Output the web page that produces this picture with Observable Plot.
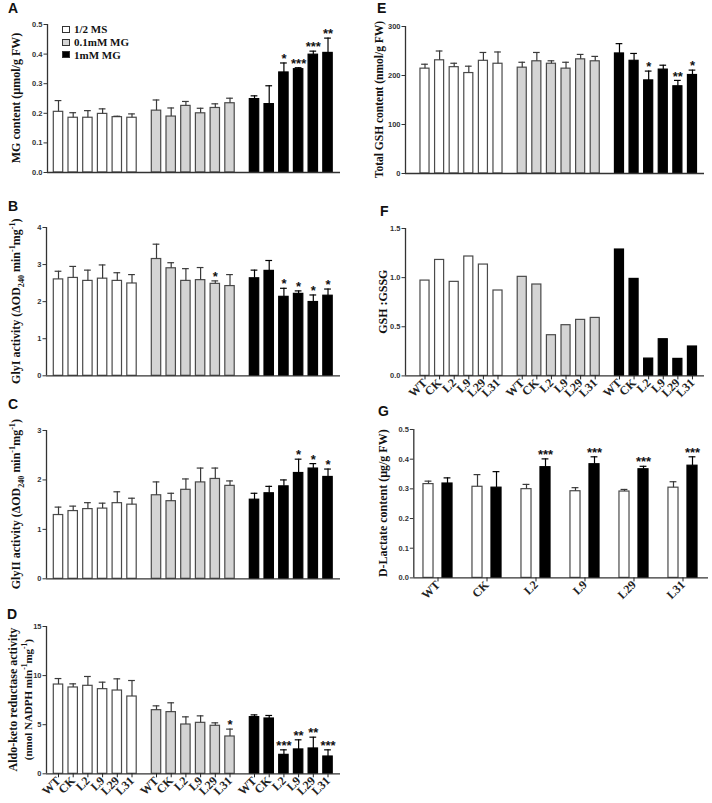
<!DOCTYPE html>
<html><head><meta charset="utf-8">
<script src="https://cdn.jsdelivr.net/npm/d3@7"></script>
<script src="https://cdn.jsdelivr.net/npm/@observablehq/plot@0.6"></script>
<style>
body{margin:0;background:#fff;}
#fig{position:relative;width:712px;height:803px;overflow:hidden;background:#fff;}
.panel{position:absolute;}
.letter{position:absolute;font:bold 14px "Liberation Sans",Arial,sans-serif;line-height:1;color:#111;}
.legend{position:absolute;left:62px;top:23px;font:bold 11px "Liberation Serif","Times New Roman",serif;color:#111;}
.legend .row{height:12.7px;display:flex;align-items:center;white-space:nowrap;}
.legend .box{display:inline-block;width:6px;height:5px;border:1px solid #333;margin-right:4px;}
</style></head><body><div id="fig"></div>
<script>
// ---------- data ----------
const lines = ["WT","CK","L2","L9","L29","L31"];
const treatments = ["1/2 MS","0.1mM MG","1mM MG"];

// A: MG content (µmol/g FW)  rows = treatments
const mgMean = [[0.205,0.185,0.185,0.198,0.187,0.185],[0.209,0.189,0.225,0.200,0.218,0.234],[0.248,0.231,0.338,0.349,0.398,0.404]];
const mgErr  = [[0.038,0.017,0.024,0.017,0.003,0.013],[0.036,0.029,0.015,0.017,0.014,0.017],[0.011,0.062,0.032,0.005,0.012,0.050]];
const mgSig  = [["","","","","",""],["","","","","",""],["","","*","***","***","**"]];

// B: GlyI activity
const glyIMean = [[2.60,2.64,2.56,2.62,2.56,2.49],[3.15,2.90,2.56,2.58,2.48,2.42],[2.63,2.83,2.13,2.21,1.99,2.16]];
const glyIErr  = [[0.22,0.31,0.29,0.37,0.22,0.24],[0.40,0.15,0.33,0.34,0.08,0.31],[0.22,0.28,0.23,0.08,0.19,0.18]];
const glyISig  = [["","","","","",""],["","","","","*",""],["","","*","*","*","*"]];

// C: GlyII activity
const glyIIMean = [[1.29,1.37,1.41,1.42,1.53,1.50],[1.69,1.57,1.80,1.95,2.02,1.88],[1.60,1.73,1.87,2.14,2.23,2.06]];
const glyIIErr  = [[0.16,0.10,0.13,0.11,0.23,0.13],[0.27,0.16,0.22,0.29,0.22,0.10],[0.13,0.14,0.13,0.28,0.10,0.16]];
const glyIISig  = [["","","","","",""],["","","","","",""],["","","","*","*","*"]];

// D: Aldo-keto reductase activity
const akrMean = [[9.09,8.79,8.96,8.62,8.48,7.87],[6.48,6.28,5.02,5.19,4.89,3.80],[5.77,5.63,1.93,2.48,2.58,1.76]];
const akrErr  = [[0.61,0.37,0.95,0.71,1.19,1.63],[0.44,0.95,0.78,0.71,0.30,0.75],[0.23,0.31,0.51,0.98,1.15,0.68]];
const akrSig  = [["","","","","",""],["","","","","","*"],["","","***","**","**","***"]];

// E: Total GSH content (nmol/g FW)
const gshMean = [[214,231,217,205,230,224],[216,229,224,214,233,229],[245,230,190,212,178,201]];
const gshErr  = [[9,19,8,14,17,24],[11,18,6,13,10,10],[20,15,19,9,12,10]];
const gshSig  = [["","","","","",""],["","","","","",""],["","","*","","**","*"]];

// F: GSH : GSSG
const ratioMean = [[0.97,1.18,0.957,1.215,1.133,0.869],[1.008,0.93,0.414,0.516,0.57,0.59],[1.286,0.987,0.176,0.373,0.173,0.299]];

// G: D-Lactate content (µg/g FW), 1/2 MS vs 1mM MG
const dlacMS   = [0.316,0.307,0.299,0.292,0.291,0.304];
const dlacMSErr= [0.010,0.041,0.016,0.012,0.007,0.020];
const dlacMG   = [0.318,0.304,0.373,0.383,0.366,0.378];
const dlacMGErr= [0.019,0.054,0.028,0.025,0.010,0.030];
const dlacMGSig= ["","","***","***","***","***"];

// ---------- styles ----------
const fills = ["#ffffff","#d4d4d4","#000000"];
const strokes = ["#4a4a4a","#4a4a4a","#000000"];
const errCol = ["#3a3a3a","#3a3a3a","#000000"];
const SANS = '"Liberation Sans",Arial,sans-serif';
const SERIF = '"Liberation Serif","Times New Roman",serif';
const fig = document.getElementById("fig");

function addTitle(svg, parts, cx, cy, fs) {
  const t = d3.select(svg).append("text")
    .attr("transform", `translate(${cx},${cy}) rotate(-90)`)
    .attr("text-anchor","middle")
    .attr("y", fs*0.35)
    .attr("font-family", SERIF).attr("font-weight","bold")
    .attr("font-size", fs).attr("fill","#111");
  let cur = 0;
  parts.forEach(([s, kind]) => {
    const target = kind==="sub" ? fs*0.3 : kind==="sup" ? -fs*0.4 : 0;
    const ts = t.append("tspan").text(s).attr("dy", target-cur);
    if (kind) ts.attr("font-size", fs*0.68);
    cur = target;
  });
}

function panel(cfg) {
  const rows = [];
  cfg.means.forEach((arr, g) => arr.forEach((v, j) => rows.push({
    tr: cfg.trOf ? cfg.trOf(g) : g, pos: cfg.posOf(g, j), v,
    e: cfg.errs ? cfg.errs[g][j] : 0,
    sig: cfg.sigs ? cfg.sigs[g][j] : "",
    label: lines[j]
  })));
  const hw = cfg.barW/2, cw = cfg.capW/2;
  const errRows = rows.filter(d => d.e > 0);
  const sigRows = rows.filter(d => d.sig);
  const marks = [
    Plot.rect(rows, {x1: d=>d.pos-hw, x2: d=>d.pos+hw, y1: 0, y2: "v",
      fill: d=>fills[d.tr], stroke: d=>strokes[d.tr], strokeWidth: 1.2}),
    Plot.ruleX(errRows, {x: "pos", y1: "v", y2: d=>d.v+d.e, stroke: d=>errCol[d.tr], strokeWidth: 1.2}),
    Plot.ruleY(errRows, {y: d=>d.v+d.e, x1: d=>d.pos-cw, x2: d=>d.pos+cw, stroke: d=>errCol[d.tr], strokeWidth: 1.2}),
    Plot.text(sigRows, {x: "pos", y: d=>d.v+d.e, text: "sig", dy: -4, lineAnchor: "middle",
      fontSize: 13, fontWeight: "bold", fontFamily: SANS, fill: "#111"}),
    Plot.ruleX([cfg.xDomain[0]], {stroke: "#333", strokeWidth: 1.3}),
    Plot.ruleY([0], {stroke: "#333", strokeWidth: 1.3}),
    Plot.axisY({ticks: cfg.yTicks, tickFormat: cfg.yFormat, tickSize: 3.5, tickPadding: 1.5, label: null,
      fontSize: 7.5, fontWeight: "bold", fontFamily: SANS, color: "#333"})
  ];
  if (cfg.xTicks) {
    const m = new Map(cfg.xTicks.map((p, i) => [p, cfg.xLabels[i]]));
    marks.push(Plot.axisX({ticks: cfg.xTicks, tickFormat: p => m.get(p), tickRotate: -45, tickSize: 4, tickPadding: 1,
      label: null, fontSize: 12, fontWeight: "bold", fontFamily: SERIF, color: "#222"}));
  }
  const svg = Plot.plot({
    width: cfg.width, height: cfg.height,
    marginLeft: cfg.ml, marginRight: cfg.mr, marginTop: cfg.mt, marginBottom: cfg.mb,
    x: {type: "linear", domain: cfg.xDomain, axis: null},
    y: {domain: [0, cfg.ymax], axis: null},
    color: {type: "identity"},
    style: {background: "none", overflow: "visible", maxWidth: "none", fontFamily: SANS, color: "#222"},
    marks
  });
  const div = document.createElement("div");
  div.className = "panel";
  div.style.left = cfg.left + "px"; div.style.top = cfg.top + "px";
  div.style.width = cfg.width + "px"; div.style.height = cfg.height + "px";
  div.appendChild(svg);
  fig.appendChild(div);
  const cy = cfg.mt + (cfg.height - cfg.mt - cfg.mb)/2;
  cfg.titles.forEach(tt => addTitle(svg, tt.parts, tt.x, cy, tt.fs));
  return svg;
}

// layout helpers
const strideAD = 14.7, groupAD = 6.667;
const strideEF = 14.6, groupEF = 6.66;
const posGroup = G => (g, j) => g*G + j;
const tickPos = G => [0,1,2].flatMap(g => lines.map((_, j) => g*G + j));
const tickLab = [0,1,2].flatMap(() => lines);

// A
panel({left: 0, top: 4, width: 350, height: 176, ml: 47, mr: 10, mt: 20, mb: 8,
  xDomain: [(47-58)/strideAD, (340-58)/strideAD], ymax: 0.5, yTicks: d3.range(0, 0.51, 0.1), yFormat: d3.format(".1f"),
  means: mgMean, errs: mgErr, sigs: mgSig, posOf: posGroup(groupAD), barW: 0.64, capW: 0.46,
  titles: [{x: 16, fs: 12, parts: [["MG content (µmol/g FW)"]]}]});
// B
panel({left: 0, top: 206.7, width: 350, height: 176.3, ml: 46, mr: 10, mt: 20, mb: 8,
  xDomain: [(46-58)/strideAD, (340-58)/strideAD], ymax: 4, yTicks: [0,1,2,3,4], yFormat: d3.format("d"),
  means: glyIMean, errs: glyIErr, sigs: glyISig, posOf: posGroup(groupAD), barW: 0.64, capW: 0.46,
  titles: [{x: 16, fs: 12, parts: [["GlyI activity (ΔOD"],["240","sub"],[" min"],["-1","sup"],["mg"],["-1","sup"],[")"]]}]});
// C
panel({left: 0, top: 410, width: 350, height: 176.3, ml: 46, mr: 10, mt: 20, mb: 8,
  xDomain: [(46-58)/strideAD, (340-58)/strideAD], ymax: 3, yTicks: [0,1,2,3], yFormat: d3.format("d"),
  means: glyIIMean, errs: glyIIErr, sigs: glyIISig, posOf: posGroup(groupAD), barW: 0.64, capW: 0.46,
  titles: [{x: 16, fs: 12, parts: [["GlyII activity (ΔOD"],["240","sub"],[" min"],["-1","sup"],["mg"],["-1","sup"],[")"]]}]});
// D
panel({left: 0, top: 606, width: 350, height: 197, ml: 46, mr: 10, mt: 20, mb: 29.7,
  xDomain: [(46-58)/strideAD, (340-58)/strideAD], ymax: 15, yTicks: [0,5,10,15], yFormat: d3.format("d"),
  means: akrMean, errs: akrErr, sigs: akrSig, posOf: posGroup(groupAD), barW: 0.64, capW: 0.46,
  xTicks: tickPos(groupAD), xLabels: tickLab,
  titles: [{x: 13, fs: 12, parts: [["Aldo-keto reductase activity"]]},
           {x: 28, fs: 11, parts: [["(nmol NADPH min"],["-1","sup"],["mg"],["-1","sup"],[")"]]}]});
// E
panel({left: 355, top: 5.7, width: 355, height: 175, ml: 50, mr: 6, mt: 20, mb: 8,
  xDomain: [(405-424.5)/strideEF, (704-424.5)/strideEF], ymax: 300, yTicks: [0,100,200,300], yFormat: d3.format("d"),
  means: gshMean, errs: gshErr, sigs: gshSig, posOf: posGroup(groupEF), barW: 0.62, capW: 0.46,
  titles: [{x: 24, fs: 11.5, parts: [["Total GSH content (nmol/g FW)"]]}]});
// F
panel({left: 355, top: 208.3, width: 355, height: 195.4, ml: 50, mr: 6, mt: 20, mb: 28,
  xDomain: [(405-424.5)/strideEF, (704-424.5)/strideEF], ymax: 1.5, yTicks: [0,0.5,1,1.5], yFormat: d3.format(".1f"),
  means: ratioMean, posOf: posGroup(groupEF), barW: 0.62, capW: 0.46,
  xTicks: tickPos(groupEF), xLabels: tickLab,
  titles: [{x: 28, fs: 12, parts: [["GSH :GSSG"]]}]});
// G
panel({left: 355, top: 409.3, width: 355, height: 198.4, ml: 58.3, mr: 2, mt: 20, mb: 30,
  xDomain: [(413.3-437.5)/49, (708-437.5)/49], ymax: 0.5, yTicks: d3.range(0, 0.51, 0.1), yFormat: d3.format(".1f"),
  means: [dlacMS, dlacMG], errs: [dlacMSErr, dlacMGErr], sigs: [lines.map(() => ""), dlacMGSig],
  trOf: g => [0, 2][g], posOf: (g, j) => j + (g === 0 ? -0.194 : 0.194), barW: 0.205, capW: 0.14,
  xTicks: lines.map((_, j) => j), xLabels: lines,
  titles: [{x: 28, fs: 12, parts: [["D-Lactate content (µg/g FW)"]]}]});

// panel letters
[["A",8,0.5],["B",8,199],["C",8,397],["D",7,607],["E",377,0.5],["F",380,204],["G",378,404]].forEach(([t,x,y]) => {
  const d = document.createElement("div");
  d.className = "letter"; d.textContent = t;
  d.style.left = x + "px"; d.style.top = y + "px";
  fig.appendChild(d);
});

// legend
const leg = document.createElement("div");
leg.className = "legend";
treatments.forEach((t, i) => {
  const r = document.createElement("div"); r.className = "row";
  const b = document.createElement("span"); b.className = "box"; b.style.background = fills[i];
  r.appendChild(b); r.appendChild(document.createTextNode(t));
  leg.appendChild(r);
});
fig.appendChild(leg);
</script></body></html>
